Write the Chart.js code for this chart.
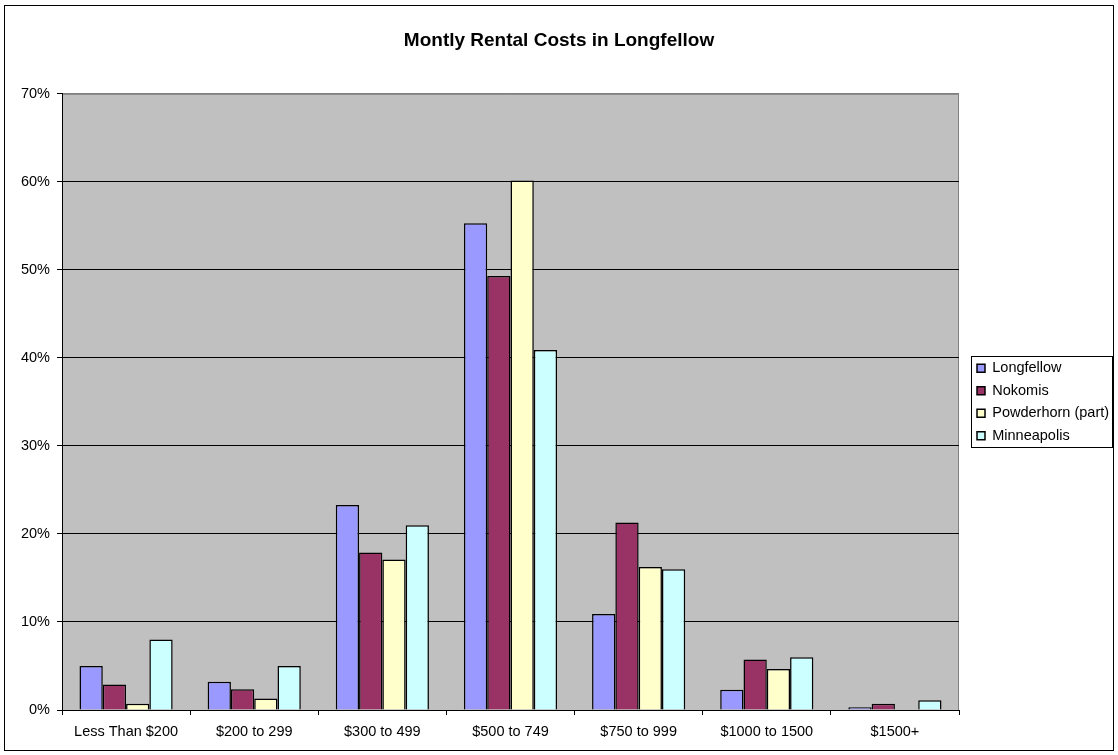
<!DOCTYPE html>
<html>
<head>
<meta charset="utf-8">
<script src="https://cdn.jsdelivr.net/npm/chart.js@4/dist/chart.umd.min.js"></script>
<style>
  html, body { margin: 0; padding: 0; background: #fff; }
  #wrap { width: 1118px; height: 755px; }
</style>
</head>
<body>
<div id="wrap"><canvas id="chart" width="1118" height="755"></canvas></div>
<script>
const categories = ['Less Than $200', '$200 to 299', '$300 to 499', '$500 to 749', '$750 to 999', '$1000 to 1500', '$1500+'];
const longfellow = [5.0, 3.2, 23.3, 55.3, 10.9, 2.3, 0.3];
const nokomis = [2.9, 2.35, 17.9, 49.3, 21.3, 5.75, 0.7];
const powderhorn = [0.7, 1.3, 17.1, 60.15, 16.25, 4.65, 0];
const minneapolis = [8.0, 5.0, 21.0, 40.9, 16.0, 6.0, 1.1];
const yTicks = [0, 10, 20, 30, 40, 50, 60, 70];

const FONT = 'Arial, "Liberation Sans", sans-serif';

// grey plot area, outer chart frame and the box around the legend
const frame = {
    id: 'frame',
    afterInit(chart) {
        const lg = chart.legend;
        const fit = lg.fit;
        lg.fit = function () { fit.call(this); this.width = 159; };
    },
    afterLayout(chart) {
        const lg = chart.legend, a = chart.chartArea;
        lg.left = 969;
        lg.top = a.top;
        lg.bottom = a.bottom;
        lg.height = a.bottom - a.top;
    },
    beforeDraw(chart) {
        const c = chart.ctx, a = chart.chartArea;
        c.save();
        c.fillStyle = '#fff';
        c.fillRect(0, 0, chart.width, chart.height);
        c.fillStyle = '#c0c0c0';
        c.fillRect(a.left, a.top, a.right - a.left, a.bottom - a.top);
        c.strokeStyle = '#808080';
        c.lineWidth = 1;
        c.beginPath();
        c.moveTo(a.left, a.top + 0.5);
        c.lineTo(a.right - 0.5, a.top + 0.5);
        c.lineTo(a.right - 0.5, a.bottom);
        c.stroke();
        c.restore();
    },
    afterDraw(chart) {
        const c = chart.ctx;
        const boxes = chart.legend.legendHitBoxes;
        c.save();
        c.strokeStyle = '#000';
        c.lineWidth = 1;
        c.strokeRect(4.5, 5.5, 1109, 745);
        if (boxes && boxes.length) {
            const top = Math.round(boxes[0].top) - 4.5;
            const last = boxes[boxes.length - 1];
            const bottom = Math.round(last.top + last.height) + 4.5;
            c.strokeRect(971.5, top, 141, bottom - top);
        }
        c.restore();
    }
};

function ds(label, data, color) {
    return {
        label: label,
        data: data,
        backgroundColor: color,
        borderColor: '#000',
        borderWidth: 1.5,
        borderSkipped: 'bottom'
    };
}

new Chart(document.getElementById('chart'), {
    type: 'bar',
    data: {
        labels: categories,
        datasets: [
            ds('Longfellow', longfellow, '#9999ff'),
            ds('Nokomis', nokomis, '#993366'),
            ds('Powderhorn (part)', powderhorn, '#ffffcc'),
            ds('Minneapolis', minneapolis, '#ccffff')
        ]
    },
    options: {
        responsive: false,
        animation: false,
        devicePixelRatio: 1,
        layout: { padding: { left: 0, right: 0, top: 0, bottom: 0 } },
        datasets: {
            bar: { categoryPercentage: 0.727, barPercentage: 1.0 }
        },
        scales: {
            x: {
                afterFit(s) { s.height = 45; },
                grid: {
                    offset: true,
                    drawOnChartArea: false,
                    drawTicks: true,
                    tickLength: 5,
                    color: '#000'
                },
                border: { color: '#000', width: 1 },
                ticks: {
                    color: '#000',
                    padding: 8,
                    maxRotation: 0,
                    font: { family: FONT, size: 14.5 }
                }
            },
            y: {
                min: 0,
                max: 70,
                afterFit(s) { s.width = 62; },
                afterBuildTicks(s) { s.ticks = yTicks.map(v => ({ value: v })); },
                grid: {
                    drawTicks: true,
                    tickLength: 5,
                    color: ctx => (ctx.tick && ctx.tick.value === 70) ? '#808080' : '#000',
                    tickColor: '#000'
                },
                border: { color: '#000', width: 1 },
                ticks: {
                    color: '#000',
                    padding: 7,
                    font: { family: FONT, size: 14.5 },
                    callback: v => v + '%'
                }
            }
        },
        plugins: {
            title: {
                display: true,
                text: 'Montly Rental Costs in Longfellow',
                color: '#000',
                font: { family: FONT, size: 19, weight: 'bold', lineHeight: 1.2 },
                padding: { top: 29, bottom: 42 }
            },
            legend: {
                position: 'right',
                align: 'center',
                labels: {
                    color: '#000',
                    boxWidth: 8,
                    boxHeight: 8,
                    padding: 8,
                    font: { family: FONT, size: 14.5, lineHeight: 1.15 }
                }
            },
            tooltip: { enabled: false }
        }
    },
    plugins: [frame]
});
</script>
</body>
</html>
